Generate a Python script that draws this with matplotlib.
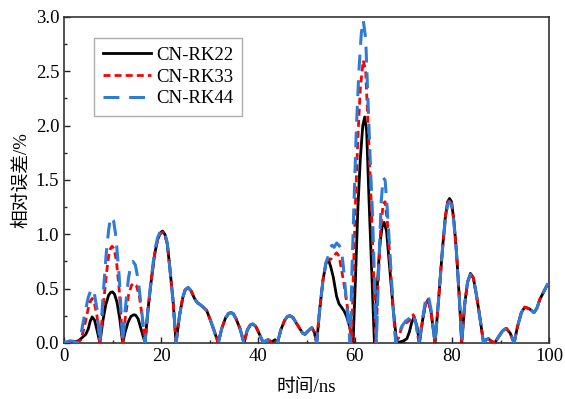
import matplotlib
matplotlib.use("Agg")
import matplotlib.pyplot as plt
from matplotlib.ticker import MultipleLocator

# ---------------- data ----------------
t_rk22 = [0, 1, 2, 3, 3.5, 4, 4.5, 5, 5.4, 5.8, 6.3, 6.8, 7.4, 8.0, 8.6, 9.2, 9.6, 10.0, 10.4, 10.9, 11.5, 12.1,
          12.6, 13.2, 13.8, 14.4, 14.8, 15.3, 15.8, 16.2, 16.7, 17.3, 18.0, 18.7, 19.3, 19.8, 20.3, 20.8, 21.3,
          21.8, 22.5, 23.1,
          23.8, 24.5, 25.0, 25.6, 26.2, 26.9, 27.5, 28.0, 28.7, 29.4, 30.1, 30.9, 31.8, 32.5, 33.3, 33.9, 34.4,
          34.9, 35.5, 36.3, 37.1, 37.8, 38.4, 38.9, 39.5, 40.0, 40.5, 41.1, 41.6, 42.1, 42.8, 43.5, 44.0, 44.7,
          45.5, 46.1, 46.6, 47.2, 47.8, 48.5, 49.2, 49.7, 50.3, 51.1, 51.6, 52.1,
          52.7, 53.4, 54.0, 54.5, 55.0, 55.5, 56.2, 56.7, 57.2, 57.8, 58.3, 58.9, 59.3, 59.6, 60.1, 60.6,
          61.1, 61.6, 62.0, 62.4, 62.9, 63.5, 64.0, 64.5, 65.1, 65.6, 66.0, 66.5, 67.1, 67.8, 68.6, 69.3,
          70.0, 70.7, 71.2, 71.7, 72.2, 72.8, 73.3, 73.9, 74.5, 75.1, 75.7, 76.5, 77.2, 78.0, 78.6, 79.1,
          79.5, 79.9, 80.4, 80.9, 81.5, 82.0, 82.6, 83.2, 83.8, 84.4, 85.0, 85.7, 86.5, 87.0, 87.5, 88.0,
          88.8, 89.5, 90.4, 91.2, 92.0, 92.8, 93.5, 94.3, 95.0, 95.6, 96.1, 96.9, 97.5, 98.1, 98.9, 99.7, 100]
e_rk22 = [0, 0.005, 0.01, 0.02, 0.04, 0.06, 0.08, 0.13, 0.2, 0.24, 0.21, 0.12, 0, 0.2, 0.35, 0.44, 0.465, 0.47, 0.45,
          0.38, 0.22, 0,
          0.1, 0.19, 0.245, 0.26, 0.255, 0.22, 0.14, 0.08, 0, 0.3, 0.58, 0.82, 0.95, 1.01, 1.03, 1.0, 0.91,
          0.7, 0.38, 0,
          0.25, 0.42, 0.49, 0.51, 0.48, 0.41, 0.37, 0.355, 0.33, 0.30, 0.22, 0.12, 0, 0.13, 0.23, 0.27, 0.28,
          0.27, 0.22, 0.13, 0, 0.12, 0.165, 0.175, 0.155, 0.11, 0.06, 0, 0.02, 0.03, 0.01, 0.03, 0, 0.12,
          0.21, 0.245, 0.25, 0.235, 0.19, 0.14, 0.09, 0.08, 0.11, 0.14, 0.1, 0,
          0.3, 0.58, 0.73, 0.77, 0.70, 0.61, 0.43, 0.36, 0.33, 0.29, 0.24, 0.15, 0.06, 0, 0.6, 1.25,
          1.7, 2.0, 2.08, 1.95, 1.3, 0.6, 0, 0.45, 0.9, 1.07, 1.11, 1.03, 0.72, 0.35, 0, 0.01,
          0.02, 0.04, 0.1, 0.19, 0.24, 0.15, 0, 0.2, 0.35, 0.40, 0.28, 0, 0.38, 0.85, 1.15, 1.30,
          1.33, 1.30, 1.12, 0.85, 0.42, 0, 0.35, 0.56, 0.64, 0.6, 0.45, 0.25, 0, 0.03, 0.04, 0.02,
          0, 0.05, 0.11, 0.135, 0.09, 0, 0.15, 0.28, 0.33, 0.32, 0.31, 0.28, 0.32, 0.40, 0.47, 0.54, 0.53]

t_rk33 = [0, 1, 2, 3, 3.5, 4.2, 5.0, 5.5, 5.8, 6.2, 6.8, 7.4, 8.0, 8.7, 9.2, 9.6, 9.9, 10.3, 10.8, 11.4, 12.1,
          12.6, 13.3, 13.9, 14.4, 14.9, 15.5, 16.1, 16.7, 17.3, 18.0, 18.7, 19.3, 19.8, 20.3, 20.8, 21.3,
          21.8, 22.5, 23.1,
          23.8, 24.5, 25.0, 25.6, 26.2, 26.9, 27.5, 28.0, 28.7, 29.4, 30.1, 30.9, 31.8, 32.5, 33.3, 33.9, 34.4,
          34.9, 35.5, 36.3, 37.1, 37.8, 38.4, 38.9, 39.5, 40.0, 40.5, 41.1, 41.6, 42.1, 42.8, 43.5, 44.0, 44.7,
          45.5, 46.1, 46.6, 47.2, 47.8, 48.5, 49.2, 49.7, 50.3, 51.1, 51.6, 52.1,
          52.7, 53.4, 54.0, 54.5, 55.0, 55.6, 56.2, 56.7, 57.2, 57.7, 58.2, 58.7, 59.3, 59.7, 60.1, 60.6,
          61.1, 61.7, 62.2, 62.8, 63.4, 63.9, 64.3, 64.8, 65.3, 65.8, 66.2, 66.7, 67.3, 67.9, 68.4, 69.0,
          69.6, 70.4, 71.3, 72.0, 72.6, 73.2, 73.9, 74.5, 75.1, 75.7, 76.5, 77.2, 78.0, 78.6, 79.1,
          79.5, 79.9, 80.4, 80.9, 81.5, 82.0, 82.6, 83.2, 83.8, 84.4, 85.0, 85.7, 86.5, 87.0, 87.5, 88.0,
          88.8, 89.5, 90.4, 91.2, 92.0, 92.8, 93.5, 94.3, 95.0, 95.6, 96.1, 96.9, 97.5, 98.1, 98.9, 99.7, 100]
e_rk33 = [0, 0.005, 0.01, 0.01, 0.03, 0.15, 0.32, 0.39, 0.41, 0.38, 0.25, 0, 0.3, 0.62, 0.8, 0.87, 0.89, 0.87,
          0.76, 0.48, 0,
          0.22, 0.44, 0.53, 0.55, 0.53, 0.44, 0.25, 0, 0.3, 0.58, 0.82, 0.95, 1.0, 1.02, 0.99, 0.91,
          0.7, 0.38, 0,
          0.25, 0.42, 0.49, 0.51, 0.48, 0.41, 0.37, 0.355, 0.33, 0.30, 0.22, 0.12, 0, 0.13, 0.23, 0.27, 0.28,
          0.27, 0.22, 0.13, 0, 0.12, 0.165, 0.175, 0.155, 0.11, 0.06, 0, 0.02, 0.03, 0.01, 0.03, 0, 0.12,
          0.21, 0.245, 0.25, 0.235, 0.19, 0.14, 0.09, 0.08, 0.11, 0.14, 0.1, 0,
          0.3, 0.58, 0.73, 0.77, 0.77, 0.80, 0.83, 0.80, 0.68, 0.55, 0.4, 0.25, 0, 0.7, 1.3, 1.9,
          2.35, 2.6, 2.5, 1.9, 1.22, 0.55, 0, 0.6, 1.05, 1.28, 1.3, 1.1, 0.7, 0.3, 0, 0.05,
          0.14, 0.18, 0.21, 0.26, 0.17, 0, 0.2, 0.35, 0.40, 0.28, 0, 0.38, 0.85, 1.15, 1.29,
          1.32, 1.29, 1.11, 0.85, 0.42, 0, 0.35, 0.56, 0.63, 0.6, 0.45, 0.25, 0, 0.03, 0.04, 0.02,
          0, 0.05, 0.11, 0.135, 0.09, 0, 0.15, 0.28, 0.33, 0.32, 0.31, 0.28, 0.32, 0.40, 0.47, 0.54, 0.53]

t_rk44 = [0, 0.5, 1.2, 2.0, 2.8, 3.5, 4.2, 5.0, 5.5, 5.8, 6.2, 6.8, 7.4, 8.0, 8.7, 9.2, 9.5, 9.8, 10.2, 10.7, 11.4,
          12.1, 12.6, 13.3, 13.8, 14.2, 14.7, 15.3, 16.0, 16.7, 17.3, 18.0, 18.7, 19.3, 19.8, 20.3, 20.8, 21.3,
          21.8, 22.5, 23.1,
          23.8, 24.5, 25.0, 25.6, 26.2, 26.9, 27.5, 28.0, 28.7, 29.4, 30.1, 30.9, 31.8, 32.5, 33.3, 33.9, 34.4,
          34.9, 35.5, 36.3, 37.1, 37.8, 38.4, 38.9, 39.5, 40.0, 40.5, 41.1, 41.6, 42.1, 42.8, 43.5, 44.0, 44.7,
          45.5, 46.1, 46.6, 47.2, 47.8, 48.5, 49.2, 49.7, 50.3, 51.1, 51.6, 52.1,
          52.7, 53.4, 54.0, 54.5, 54.9, 55.3, 55.7, 56.2, 56.7, 57.2, 57.6, 58.1, 58.6, 59.0, 59.4, 59.8,
          60.3, 60.8, 61.3, 61.7, 62.2, 62.7, 63.2, 63.6, 64.0, 64.4, 64.9, 65.4, 65.8, 66.2, 66.7, 67.3,
          67.9, 68.4, 69.0, 69.6, 70.4, 71.3, 72.0, 72.6, 73.2, 73.9, 74.5, 75.1, 75.7, 76.5, 77.2, 78.0,
          78.6, 79.1, 79.5, 79.9, 80.4, 80.9, 81.5, 82.0, 82.6, 83.2, 83.8, 84.4, 85.0, 85.7, 86.5, 87.0,
          87.5, 88.0, 88.8, 89.5, 90.4, 91.2, 92.0, 92.8, 93.5, 94.3, 95.0, 95.6, 96.1, 96.9, 97.5, 98.1,
          98.9, 99.7, 100]
e_rk44 = [0, 0.01, 0.02, 0.015, 0.0, 0.08, 0.25, 0.42, 0.48, 0.50, 0.47, 0.31, 0, 0.4, 0.82, 1.04, 1.13, 1.16, 1.13,
          0.98, 0.6, 0,
          0.3, 0.6, 0.72, 0.75, 0.72, 0.58, 0.3, 0, 0.3, 0.6, 0.85, 0.97, 1.02, 1.04, 1.01, 0.92,
          0.7, 0.38, 0,
          0.25, 0.42, 0.49, 0.51, 0.48, 0.41, 0.37, 0.355, 0.33, 0.30, 0.22, 0.12, 0, 0.13, 0.23, 0.27, 0.28,
          0.27, 0.22, 0.13, 0, 0.12, 0.165, 0.175, 0.155, 0.11, 0.06, 0, 0.02, 0.03, 0.01, 0.03, 0, 0.12,
          0.21, 0.245, 0.25, 0.235, 0.19, 0.14, 0.09, 0.08, 0.11, 0.14, 0.1, 0,
          0.3, 0.58, 0.74, 0.80, 0.88, 0.90, 0.88, 0.92, 0.90, 0.86, 0.7, 0.45, 0.2, 0, 0.7, 1.3,
          2.0, 2.5, 2.85, 2.97, 2.8, 2.2, 1.6, 1.2, 0.6, 0, 0.7, 1.3, 1.52, 1.5, 1.2, 0.75,
          0.3, 0, 0.06, 0.15, 0.2, 0.23, 0.27, 0.17, 0, 0.22, 0.38, 0.44, 0.3, 0, 0.38, 0.84,
          1.13, 1.27, 1.30, 1.27, 1.1, 0.84, 0.42, 0, 0.35, 0.56, 0.63, 0.6, 0.45, 0.25, 0, 0.03,
          0.04, 0.02, 0, 0.05, 0.11, 0.135, 0.09, 0, 0.15, 0.28, 0.33, 0.32, 0.31, 0.28, 0.32, 0.40,
          0.47, 0.54, 0.53]

series_labels = ["CN-RK22", "CN-RK33", "CN-RK44"]
x_ticks = [0, 20, 40, 60, 80, 100]
y_ticks = [0.0, 0.5, 1.0, 1.5, 2.0, 2.5, 3.0]

# ---------------- figure ----------------
plt.rcParams['font.family'] = ['Liberation Serif', 'Noto Sans CJK SC']

fig = plt.figure(figsize=(5.65, 3.99), dpi=100)
ax = fig.add_axes([0.1133, 0.1404, 0.8584, 0.817])

common = dict(solid_joinstyle='round', dash_joinstyle='round')
ax.plot(t_rk22, e_rk22, color='black', lw=2.0, ls='-', label=series_labels[0], zorder=3, **common)
ax.plot(t_rk33, e_rk33, color='#ff0000', lw=2.0, ls=(0, (2.5, 1.5)), label=series_labels[1], zorder=4, **common)
ax.plot(t_rk44, e_rk44, color='#2f7bd6', lw=2.2, ls=(0, (5.2, 3.2)), label=series_labels[2], zorder=5, **common)

ax.set_xlim(0, 100)
ax.set_ylim(0, 3.0)
ax.set_xticks(x_ticks)
ax.set_yticks(y_ticks)
ax.set_yticklabels([f"{v:.1f}" for v in y_ticks])
ax.xaxis.set_minor_locator(MultipleLocator(10))
ax.yaxis.set_minor_locator(MultipleLocator(0.25))
ax.tick_params(which='both', direction='in', top=False, right=False, labelsize=13.5, colors='#222222')
ax.tick_params(which='major', length=4, width=1.0)
ax.tick_params(which='minor', length=2.5, width=1.0)
for lab in ax.get_xticklabels() + ax.get_yticklabels():
    lab.set_color('black')
for sp in ax.spines.values():
    sp.set_linewidth(1.2)
    sp.set_color('#333333')

ax.set_xlabel("时间/ns", fontsize=13.5, labelpad=10)
ax.set_ylabel("相对误差/%", fontsize=13.5, labelpad=4)

leg = ax.legend(loc='upper left', bbox_to_anchor=(0.062, 0.935), fontsize=13.5, frameon=True,
                fancybox=False, edgecolor='#999999', handlelength=2.6, handletextpad=0.25,
                labelspacing=0.25, borderpad=0.45, borderaxespad=0)
leg.get_frame().set_linewidth(1.0)

fig.savefig("out.png", dpi=100)
